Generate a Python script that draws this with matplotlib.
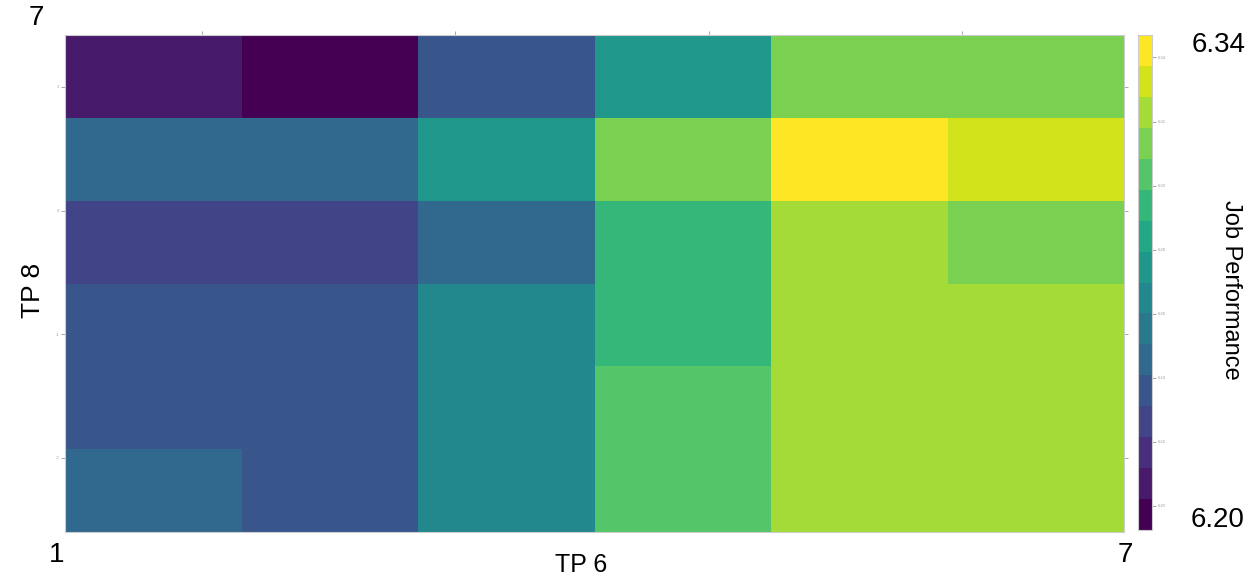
import numpy as np
import matplotlib
matplotlib.use("Agg")
import matplotlib.pyplot as plt
from matplotlib.colors import BoundaryNorm

plt.rcParams['font.family'] = ['Liberation Sans', 'DejaVu Sans']

# Job performance grid (rows top -> bottom, columns left -> right)
row0 = [6.207, 6.197, 6.236, 6.275, 6.313, 6.313]
row1 = [6.246, 6.246, 6.275, 6.313, 6.342, 6.333]
row2 = [6.226, 6.226, 6.246, 6.294, 6.323, 6.313]
row3 = [6.236, 6.236, 6.265, 6.294, 6.323, 6.323]
row4 = [6.236, 6.236, 6.265, 6.304, 6.323, 6.323]
row5 = [6.246, 6.236, 6.265, 6.304, 6.323, 6.323]

x_ticks = [-2, -1, 0, 1]
y_ticks = [-2, -1, 0, 1]
cbar_ticks = [6.20, 6.22, 6.24, 6.26, 6.28, 6.30, 6.32, 6.34]

x_range = (-2.54, 1.64)
y_range = (-2.6, 1.42)
levels = np.linspace(6.1925, 6.347, 17)

Z = np.array([row5, row4, row3, row2, row1, row0])

fig = plt.figure(figsize=(12.56, 5.77), dpi=100)
ax = fig.add_axes([65/1256, 1-532/577, (1124-65)/1256, (532-35)/577])
cax = fig.add_axes([1138/1256, 1-530/577, 14/1256, (530-35)/577])

xe = np.linspace(x_range[0], x_range[1], Z.shape[1] + 1)
ye = np.linspace(y_range[0], y_range[1], Z.shape[0] + 1)
norm = BoundaryNorm(levels, ncolors=256)
mesh = ax.pcolormesh(xe, ye, Z, cmap='viridis', norm=norm, shading='flat')
ax.set_xlim(*x_range)
ax.set_ylim(*y_range)

grey = '#999999'
ax.set_xticks(x_ticks)
ax.set_yticks(y_ticks)
ax.set_xticklabels(['' for _ in x_ticks])
ax.set_yticklabels([str(t) for t in y_ticks])
ax.tick_params(axis='both', which='both', direction='out', length=3, width=0.6,
               color=grey, labelsize=3, labelcolor=grey, pad=1,
               top=True, right=True, bottom=False)
for s in ax.spines.values():
    s.set_color('#cccccc')
    s.set_linewidth(0.8)

cb = fig.colorbar(mesh, cax=cax, ticks=cbar_ticks)
cb.minorticks_off()
cb.ax.set_yticklabels([f"{t:.2f}" for t in cbar_ticks])
cb.ax.tick_params(length=3, width=0.6, color=grey, labelsize=3, labelcolor=grey, pad=1)
cb.outline.set_edgecolor('#cccccc')
cb.outline.set_linewidth(0.8)

big = 20
fig.text(0.029, 0.969, '7', fontsize=big, ha='center', va='center')
fig.text(0.045, 0.038, '1', fontsize=big, ha='center', va='center')
fig.text(0.896, 0.038, '7', fontsize=big, ha='center', va='center')
fig.text(0.463, 0.021, 'TP 6', fontsize=18, ha='center', va='center')
fig.text(0.026, 0.497, 'TP 8', fontsize=19, ha='center', va='center', rotation=90)
fig.text(0.970, 0.922, '6.34', fontsize=big, ha='center', va='center')
fig.text(0.969, 0.099, '6.20', fontsize=big, ha='center', va='center')
fig.text(0.980, 0.497, 'Job Performance', fontsize=17, ha='center', va='center', rotation=270)

fig.savefig('out.png', dpi=100)
